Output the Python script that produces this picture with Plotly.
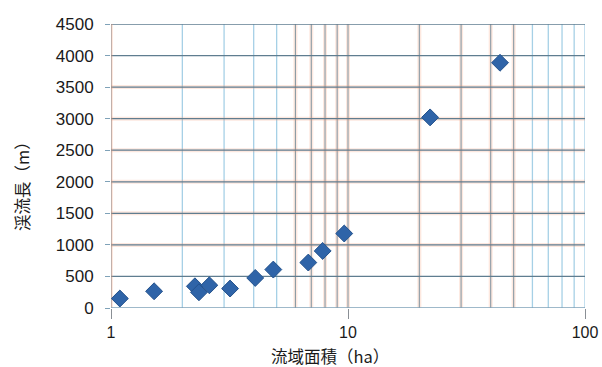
import plotly.graph_objects as go

# Catchment area (ha) vs. stream length (m)
area_ha = [1.09, 1.52, 2.26, 2.35, 2.60, 3.18, 4.06, 4.84, 6.80, 7.82, 9.64, 22.2, 43.8]
stream_len_m = [150, 265, 344, 249, 360, 308, 476, 609, 720, 904, 1180, 3020, 3886]

y_ticks = [0, 500, 1000, 1500, 2000, 2500, 3000, 3500, 4000, 4500]
x_ticks = [1, 10, 100]
light_vgrid = [2, 3, 4, 5, 60, 70, 80, 90, 100]
dark_vgrid = [6, 7, 8, 9, 10, 20, 30, 40, 50]

fringe = "rgba(245,150,110,0.22)"

shapes = []
# vertical minor grid (light blue)
for v in light_vgrid:
    shapes.append(dict(type="line", xref="x", yref="y", x0=v, x1=v, y0=0, y1=4500,
                       line=dict(color="#a6d0e6", width=1.3), layer="below"))
# vertical grid with warm fringe
for v in dark_vgrid:
    shapes.append(dict(type="line", xref="x", yref="y", x0=v, x1=v, y0=0, y1=4500,
                       line=dict(color=fringe, width=4), layer="below"))
    shapes.append(dict(type="line", xref="x", yref="y", x0=v, x1=v, y0=0, y1=4500,
                       line=dict(color="#8a9aa5", width=1.1), layer="below"))
# horizontal grid
for h in y_ticks[1:]:
    if 1000 <= h <= 3500:
        shapes.append(dict(type="line", xref="x", yref="y", x0=1, x1=100, y0=h, y1=h,
                           line=dict(color=fringe, width=4), layer="below"))
    shapes.append(dict(type="line", xref="x", yref="y", x0=1, x1=100, y0=h, y1=h,
                       line=dict(color="#5f7d90", width=1.3), layer="below"))
# left axis line with warm fringe
shapes.append(dict(type="line", xref="x", yref="y", x0=1, x1=1, y0=0, y1=4500,
                   line=dict(color="rgba(245,150,110,0.45)", width=3), layer="below"))
shapes.append(dict(type="line", xref="x", yref="y", x0=1, x1=1, y0=0, y1=4500,
                   line=dict(color="#8a8f95", width=1), layer="below"))
# baseline
shapes.append(dict(type="line", xref="x", yref="y", x0=1, x1=100, y0=0, y1=0,
                   line=dict(color="#7fa2b8", width=1.3), layer="below"))

fig = go.Figure()
fig.add_trace(go.Scatter(
    x=area_ha, y=stream_len_m, mode="markers",
    marker=dict(symbol="diamond", size=13, color="#2f64a8",
                line=dict(color="#24528c", width=1)),
    showlegend=False,
))

tick_font = dict(family="Liberation Sans, Arial, sans-serif", size=17, color="#1a1a1a")
xtick_font = dict(family="Liberation Sans, Arial, sans-serif", size=16, color="#1a1a1a")
title_font = dict(family="Noto Sans CJK JP, sans-serif", size=16.5, color="#1a1a1a")

fig.update_layout(
    width=602, height=367,
    margin=dict(l=111, r=17, t=24, b=59),
    plot_bgcolor="white", paper_bgcolor="white",
    shapes=shapes,
    xaxis=dict(type="log", range=[0, 2], tickvals=x_ticks, ticktext=[str(t) for t in x_ticks],
               showgrid=False, zeroline=False, showline=False, automargin=False,
               ticks="outside", ticklen=10, tickcolor="#8a8f95", tickwidth=1,
               tickfont=xtick_font),
    yaxis=dict(range=[0, 4500], tickvals=y_ticks, showgrid=False, zeroline=False,
               showline=False, automargin=False, ticks="outside", ticklen=5,
               tickcolor="#7fa2b8", tickfont=tick_font, ticklabelstandoff=8),
    annotations=[
        dict(text="流域面積（ha）", xref="paper", yref="paper", x=0.462, y=-0.168,
             xanchor="center", yanchor="middle", showarrow=False, font=title_font),
        dict(text="渓流長（m）", xref="paper", yref="paper", x=-0.188, y=0.443,
             xanchor="center", yanchor="middle", showarrow=False, textangle=-90,
             font=title_font),
    ],
)

fig.write_html("out.html")
